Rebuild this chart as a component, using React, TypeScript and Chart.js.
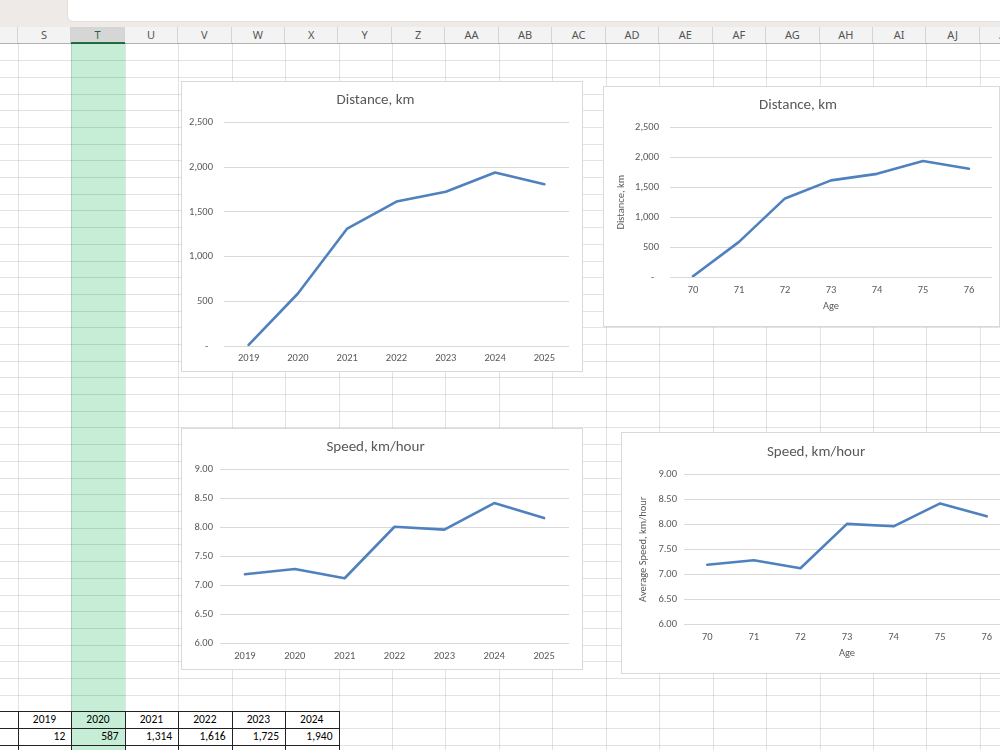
import React, { useEffect, useRef } from "react";
import { Chart, registerables } from "chart.js";

Chart.register(...registerables);

// ---------- data ----------
const years = ["2019", "2020", "2021", "2022", "2023", "2024", "2025"];
const ages = ["70", "71", "72", "73", "74", "75", "76"];
const distanceKm = [12, 587, 1314, 1616, 1725, 1940, 1810];
const speedKmh = [7.19, 7.28, 7.12, 8.01, 7.96, 8.42, 8.16];
const distanceAxis = [0, 2500, 500]; // min, max, step
const speedAxis = [6, 9, 0.5];
const columnLetters = ["R", "S", "T", "U", "V", "W", "X", "Y", "Z", "AA", "AB", "AC", "AD", "AE", "AF", "AG", "AH", "AI", "AJ", "AK"];
const tableColumns = 6; // years shown in the sheet table (S..X)

// ---------- styles ----------
const FONT = "Carlito, Calibri, Lato, sans-serif";
const TEXT = "#595959";
const GRID = "#d9d9d9";
const LINE = "#4f81bf";

const COL0 = 17.8;
const COLW = 53.45;
const ROW0 = 43.4;
const ROWH = 16.7;

const fmtDistance = (v: any) => (Number(v) === 0 ? "-  " : Number(v).toLocaleString("en-US"));
const fmtSpeed = (v: any) => Number(v).toFixed(2);

type BoxProps = {
  left: number; top: number; width: number; height: number;
  title: string; labels: string[]; values: number[]; axis: number[];
  fmt: (v: any) => string;
  yAxisWidth: number; padRight: number; titleTop: number; titleBottom: number;
  xAxisHeight: number; xTickPad: number; yTickPad: number;
  xTitle?: string; xTitleBottom?: number; yTitle?: string; yTitleTop?: number;
};

function LineBox(p: BoxProps) {
  const ref = useRef<HTMLCanvasElement>(null);
  useEffect(() => {
    const tickFont = { family: FONT, size: 10.5 };
    const chart = new Chart(ref.current!, {
      type: "line",
      data: {
        labels: p.labels,
        datasets: [{
          data: p.values,
          borderColor: LINE,
          borderWidth: 2.6,
          pointRadius: 0,
          tension: 0,
          fill: false,
          borderCapStyle: "round",
          borderJoinStyle: "round",
        }],
      },
      options: {
        responsive: false,
        animation: false,
        devicePixelRatio: 1,
        layout: { padding: { left: 0, right: p.padRight, top: 0, bottom: 0 } },
        plugins: {
          legend: { display: false },
          tooltip: { enabled: false },
          title: {
            display: true,
            text: p.title,
            color: TEXT,
            font: { family: FONT, size: 15, weight: "normal" },
            padding: { top: p.titleTop, bottom: p.titleBottom },
          },
        },
        scales: {
          x: {
            type: "category",
            offset: true,
            grid: { display: false, drawTicks: false },
            border: { display: false },
            ticks: { color: TEXT, font: tickFont, padding: p.xTickPad, maxRotation: 0, autoSkip: false },
            title: p.xTitle
              ? { display: true, text: p.xTitle, color: TEXT, font: tickFont, padding: { top: 0, bottom: p.xTitleBottom } }
              : { display: false },
            afterFit: (s: any) => { s.height = p.xAxisHeight; },
          },
          y: {
            min: p.axis[0],
            max: p.axis[1],
            grid: { color: GRID, lineWidth: 1, drawTicks: false },
            border: { display: false },
            ticks: { stepSize: p.axis[2], color: TEXT, font: tickFont, padding: p.yTickPad, callback: p.fmt },
            title: p.yTitle
              ? { display: true, text: p.yTitle, color: TEXT, font: tickFont, padding: { top: p.yTitleTop, bottom: 0 } }
              : { display: false },
            afterFit: (s: any) => { s.width = p.yAxisWidth; },
          },
        },
      } as any,
    });
    return () => chart.destroy();
  }, []);
  return (
    <div style={{
      position: "absolute", left: p.left, top: p.top, width: p.width, height: p.height,
      boxSizing: "border-box", border: "1px solid #d9d9d9", background: "#fff",
    }}>
      <canvas ref={ref} width={p.width - 2} height={p.height - 2} style={{ display: "block" }} />
    </div>
  );
}

function Sheet() {
  const vlines: React.ReactNode[] = [];
  for (let k = -1; k <= 19; k++) {
    const x = Math.round(COL0 + k * COLW);
    vlines.push(<div key={"v" + k} style={{ position: "absolute", left: x, top: 43, width: 1, height: 707, background: "rgba(0,0,0,0.11)" }} />);
  }
  const hlines: React.ReactNode[] = [];
  for (let r = 0; r <= 43; r++) {
    const y = Math.round(ROW0 + r * ROWH);
    hlines.push(<div key={"h" + r} style={{ position: "absolute", left: 0, top: y, width: 1000, height: 1, background: "rgba(0,0,0,0.11)" }} />);
  }
  const headers = columnLetters.map((c, i) => {
    const k = i - 1;
    const x = COL0 + k * COLW;
    const isT = c === "T";
    return (
      <div key={c} style={{
        position: "absolute", left: x, top: 27, width: COLW, height: 16,
        background: isT ? "#d6d6d6" : "transparent",
        borderRight: "1px solid #d4d4d4", boxSizing: "border-box",
        font: "11px 'Noto Sans', 'Open Sans', sans-serif", color: isT ? "#1d6b40" : "#555",
        textAlign: "center", lineHeight: "16px",
      }}>{c}</div>
    );
  });

  const tRow = 40;
  const yHead = ROW0 + tRow * ROWH;
  const yVal = ROW0 + (tRow + 1) * ROWH;
  const yEnd = ROW0 + (tRow + 2) * ROWH;
  const tableRight = COL0 + tableColumns * COLW;
  const cellFont = `11.5px ${FONT}`;
  const tableCells: React.ReactNode[] = [];
  for (let i = 0; i < tableColumns; i++) {
    const x = COL0 + i * COLW;
    tableCells.push(
      <div key={"y" + i} style={{ position: "absolute", left: x, top: yHead, width: COLW, height: ROWH, font: cellFont, color: "#000", textAlign: "center", lineHeight: ROWH + "px" }}>{years[i]}</div>,
      <div key={"d" + i} style={{ position: "absolute", left: x, top: yVal, width: COLW - 6, height: ROWH, font: cellFont, color: "#000", textAlign: "right", lineHeight: ROWH + "px" }}>{distanceKm[i].toLocaleString("en-US")}</div>
    );
  }
  const tableLines: React.ReactNode[] = [];
  [yHead, yVal, yEnd].forEach((y, j) => tableLines.push(
    <div key={"th" + j} style={{ position: "absolute", left: 0, top: Math.round(y), width: Math.round(tableRight) + 1, height: 1, background: "#222" }} />
  ));
  for (let i = 0; i <= tableColumns; i++) {
    const x = Math.round(COL0 + i * COLW);
    tableLines.push(<div key={"tv" + i} style={{ position: "absolute", left: x, top: Math.round(yHead), width: 1, height: 750 - Math.round(yHead), background: "#222" }} />);
  }

  return (
    <>
      {/* top bars */}
      <div style={{ position: "absolute", left: 0, top: 0, width: 1000, height: 27, background: "#eeeae8" }} />
      <div style={{ position: "absolute", left: 68, top: 0, width: 932, height: 21, background: "#fff", borderBottomLeftRadius: 5, boxShadow: "0 0 0 1px #e2dedc" }} />
      {/* header row */}
      <div style={{ position: "absolute", left: 0, top: 27, width: 1000, height: 17, background: "#f3f3f3", borderBottom: "1px solid #c8c8c8", boxSizing: "border-box" }} />
      {headers}
      <div style={{ position: "absolute", left: COL0 + COLW, top: 41.5, width: COLW, height: 2, background: "#217346" }} />
      {/* selected column */}
      <div style={{ position: "absolute", left: COL0 + COLW, top: 44, width: COLW, height: 706, background: "#c6eed6" }} />
      {vlines}
      {hlines}
      {tableLines}
      {tableCells}
    </>
  );
}

export default function App() {
  return (
    <div style={{ position: "fixed", left: 0, top: 0, width: 1000, height: 750, overflow: "hidden", background: "#fff" }}>
      <Sheet />
      <LineBox left={181} top={81} width={402} height={291}
        title="Distance, km" labels={years} values={distanceKm} axis={distanceAxis} fmt={fmtDistance}
        yAxisWidth={42} padRight={13} titleTop={9.5} titleBottom={13}
        xAxisHeight={25} xTickPad={6} yTickPad={11} />
      <LineBox left={603} top={86} width={397} height={241}
        title="Distance, km" labels={ages} values={distanceKm} axis={distanceAxis} fmt={fmtDistance}
        yAxisWidth={66} padRight={7} titleTop={9.5} titleBottom={13}
        xAxisHeight={49} xTickPad={7} yTickPad={11}
        xTitle="Age" xTitleBottom={13} yTitle="Distance, km" yTitleTop={11} />
      <LineBox left={181} top={428} width={402} height={242}
        title="Speed, km/hour" labels={years} values={speedKmh} axis={speedAxis} fmt={fmtSpeed}
        yAxisWidth={38} padRight={13} titleTop={9.5} titleBottom={13}
        xAxisHeight={26} xTickPad={7} yTickPad={7} />
      <LineBox left={621} top={432} width={400} height={242}
        title="Speed, km/hour" labels={ages} values={speedKmh} axis={speedAxis} fmt={fmtSpeed}
        yAxisWidth={62} padRight={10} titleTop={10.5} titleBottom={13}
        xAxisHeight={49} xTickPad={7} yTickPad={7}
        xTitle="Age" xTitleBottom={13} yTitle="Average Speed, km/hour" yTitleTop={15} />
    </div>
  );
}
